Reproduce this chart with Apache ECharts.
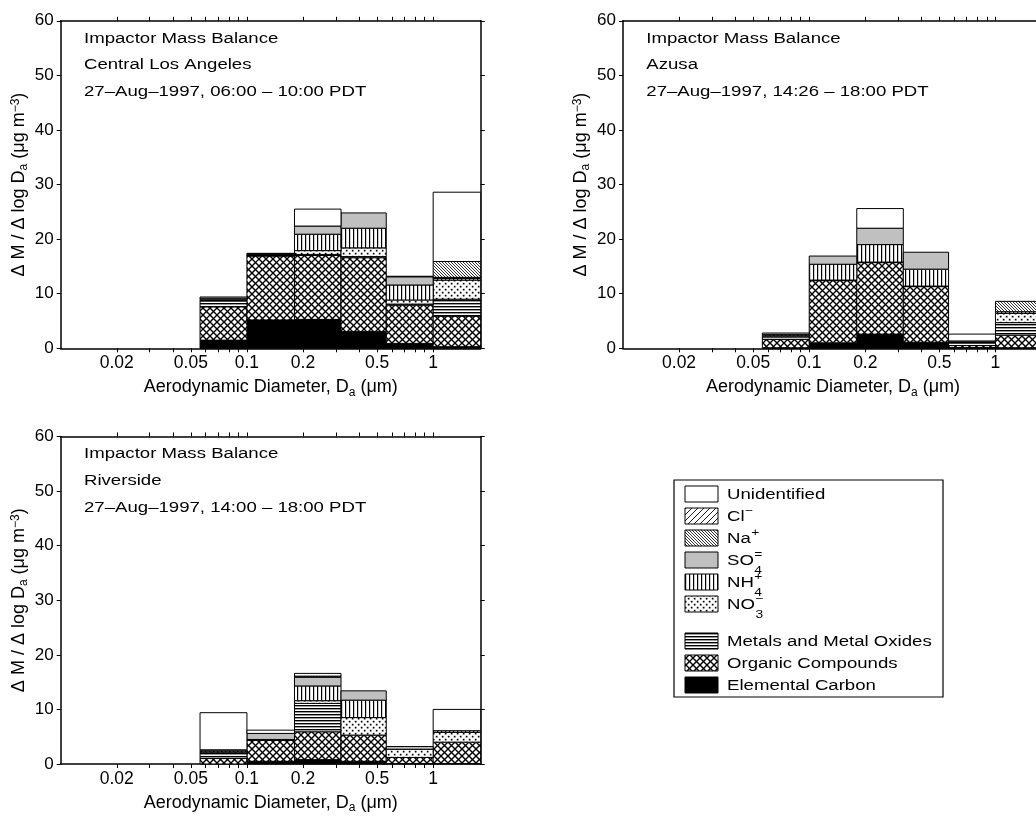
<!DOCTYPE html>
<html>
<head>
<meta charset="utf-8">
<script src="https://cdn.jsdelivr.net/npm/echarts@6/dist/echarts.min.js"></script>
<style>
html, body { margin: 0; padding: 0; background: #fff; }
#chart { width: 1036px; height: 817px; }
</style>
</head>
<body>
<div id="chart"></div>
<script>
// MOUDI stage boundaries, aerodynamic diameter in µm
const binEdges = [0.056, 0.1, 0.18, 0.32, 0.56, 1.0, 1.8];

// x axis: labelled diameters and all tick positions (log scale, µm)
const xLabelValues = [0.02, 0.05, 0.1, 0.2, 0.5, 1];
const xLabelTexts = ['0.02', '0.05', '0.1', '0.2', '0.5', '1'];
const xTickValues = [0.02, 0.03, 0.04, 0.05, 0.06, 0.07, 0.08, 0.09,
  0.1, 0.2, 0.3, 0.4, 0.5, 0.6, 0.7, 0.8, 0.9, 1];
const xRange = [0.01, 1.8];
const yRange = [0, 60];
const yStep = 10;

// Central Los Angeles, 27-Aug-1997 06:00-10:00 PDT (µg m-3 per log Da)
const laElementalCarbon = [1.5, 5.2, 5.3, 3.05, 0.9, 0.3];
const laOrganics        = [6.1, 11.7, 11.7, 13.55, 7.0, 5.6];
const laMetals          = [1.1, 0.2, 0.2, 0.2, 0.2, 3.1];
const laNitrate         = [0.1, 0.1, 0.7, 1.6, 0.75, 3.5];
const laAmmonium        = [0.1, 0.1, 3.0, 3.6, 2.75, 0.3];
const laSulfate         = [0.3, 0.1, 1.5, 2.8, 1.5, 0.2];
const laSodium          = [0, 0, 0, 0, 0, 2.9];
const laChloride        = [0, 0, 0, 0, 0, 0];
const laUnidentified    = [0.2, 0, 3.1, 0, 0.1, 12.7];

// Azusa, 27-Aug-1997 14:26-18:00 PDT
const azElementalCarbon = [0.1, 1.0, 2.6, 1.1, 0.15, 0.1];
const azOrganics        = [1.55, 11.4, 13.1, 10.2, 0.35, 2.3];
const azMetals          = [0.45, 0.1, 0.1, 0.1, 0.5, 2.3];
const azNitrate         = [0.2, 0, 0, 0, 0.1, 1.7];
const azAmmonium        = [0.2, 2.9, 3.2, 3.1, 0.05, 0.3];
const azSulfate         = [0.3, 1.5, 3.0, 3.1, 0.2, 0];
const azSodium          = [0, 0, 0, 0, 0, 1.9];
const azChloride        = [0, 0, 0, 0, 0, 0];
const azUnidentified    = [0, 0, 3.6, 0, 1.25, 0];

// Riverside, 27-Aug-1997 14:00-18:00 PDT
const rvElementalCarbon = [0, 0.5, 0.8, 0.5, 0.1, 0.1];
const rvOrganics        = [1.0, 3.8, 5.1, 4.8, 1.1, 3.9];
const rvMetals          = [1.0, 0.2, 5.2, 0, 0, 0];
const rvNitrate         = [0.2, 0, 0.5, 3.2, 1.5, 1.8];
const rvAmmonium        = [0.2, 0, 2.7, 3.2, 0, 0.3];
const rvSulfate         = [0.2, 1.1, 1.6, 1.7, 0.5, 0];
const rvSodium          = [0, 0, 0.2, 0, 0, 0];
const rvChloride        = [0, 0, 0, 0, 0, 0];
const rvUnidentified    = [6.8, 0.6, 0.5, 0, 0, 3.9];

// species keys, stacked from the bottom up
const stackOrder = ['ec', 'org', 'met', 'no3', 'nh4', 'so4', 'na', 'cl', 'unid'];
// legend rows, top to bottom: [main text, superscript, subscript]
const legendOrder = ['unid', 'cl', 'na', 'so4', 'nh4', 'no3', 'met', 'org', 'ec'];
const legendLabels = {
  unid: ['Unidentified', '', ''],
  cl: ['Cl', '\u2212', ''],
  na: ['Na', '+', ''],
  so4: ['SO', '=', '4'],
  nh4: ['NH', '+', '4'],
  no3: ['NO', '\u2212', '3'],
  met: ['Metals and Metal Oxides', '', ''],
  org: ['Organic Compounds', '', ''],
  ec: ['Elemental Carbon', '', '']
};

const sites = [
  { name: 'Central Los Angeles', period: '27\u2013Aug\u20131997, 06:00 \u2013 10:00 PDT',
    parts: { ec: laElementalCarbon, org: laOrganics, met: laMetals, no3: laNitrate, nh4: laAmmonium,
             so4: laSulfate, na: laSodium, cl: laChloride, unid: laUnidentified } },
  { name: 'Azusa', period: '27\u2013Aug\u20131997, 14:26 \u2013 18:00 PDT',
    parts: { ec: azElementalCarbon, org: azOrganics, met: azMetals, no3: azNitrate, nh4: azAmmonium,
             so4: azSulfate, na: azSodium, cl: azChloride, unid: azUnidentified } },
  { name: 'Riverside', period: '27\u2013Aug\u20131997, 14:00 \u2013 18:00 PDT',
    parts: { ec: rvElementalCarbon, org: rvOrganics, met: rvMetals, no3: rvNitrate, nh4: rvAmmonium,
             so4: rvSulfate, na: rvSodium, cl: rvChloride, unid: rvUnidentified } }
];

// ---- layout ----
const FONT = '"Liberation Sans", Arial, Helvetica, sans-serif';
const panelBoxes = [
  { left: 60.7, top: 20.8 },
  { left: 623, top: 20.8 },
  { left: 60.7, top: 436.5 }
];
const PW = 420, PH = 327.5;
const TEXT_STRETCH = 1.2;

// ---- hatch fills ----
function tile(w, h, draw) {
  const c = document.createElement('canvas');
  c.width = w; c.height = h;
  const g = c.getContext('2d');
  g.fillStyle = '#fff';
  g.fillRect(0, 0, w, h);
  draw(g, w, h);
  return { image: c, repeat: 'repeat' };
}
function slash(g, w, h) {       // "/" lines, tileable
  g.beginPath();
  g.moveTo(0, h); g.lineTo(w, 0);
  g.moveTo(-1, 1); g.lineTo(1, -1);
  g.moveTo(w - 1, h + 1); g.lineTo(w + 1, h - 1);
  g.stroke();
}
function backslash(g, w, h) {   // "\" lines, tileable
  g.beginPath();
  g.moveTo(0, 0); g.lineTo(w, h);
  g.moveTo(-1, h - 1); g.lineTo(1, h + 1);
  g.moveTo(w - 1, -1); g.lineTo(w + 1, 1);
  g.stroke();
}
const fills = {
  unid: '#ffffff',
  cl: tile(6, 6, (g, w, h) => { g.strokeStyle = '#000'; g.lineWidth = 0.9; slash(g, w, h); }),
  na: tile(3, 3, (g, w, h) => { g.strokeStyle = '#000'; g.lineWidth = 0.8; backslash(g, w, h); }),
  so4: '#c0c0c0',
  nh4: tile(4, 2, (g) => { g.fillStyle = '#000'; g.fillRect(1, 0, 1.2, 2); }),
  no3: tile(6, 6, (g) => { g.fillStyle = '#000'; g.fillRect(0.8, 0.8, 1.7, 1.7); g.fillRect(3.8, 3.8, 1.7, 1.7); }),
  met: tile(2, 3, (g) => { g.fillStyle = '#000'; g.fillRect(0, 0, 2, 1); g.fillStyle = '#9a9a9a'; g.fillRect(0, 1, 2, 1); }),
  org: tile(7, 7, (g, w, h) => { g.strokeStyle = '#000'; g.lineWidth = 1.4; slash(g, w, h); backslash(g, w, h); }),
  ec: '#000000'
};

// ---- axes ----
const lg = Math.log10;
const xTickLog = xTickValues.map(lg);
const xLabelLog = xLabelValues.map(lg);
function xLabelFor(v) {
  for (let i = 0; i < xLabelLog.length; i++) {
    if (Math.abs(xLabelLog[i] - v) < 1e-6) return xLabelTexts[i];
  }
  return '';
}

const grid = [], xAxis = [], yAxis = [], series = [], graphic = [];
const axisLine = { show: true, onZero: false, lineStyle: { color: '#000', width: 1.5 } };
const nameRich = {
  m: { fontSize: 18, fontFamily: FONT, color: '#000', verticalAlign: 'top', lineHeight: 20 },
  sub: { fontSize: 12, fontFamily: FONT, color: '#000', verticalAlign: 'bottom', lineHeight: 12, padding: [13, 0, 0, 0] },
  sup: { fontSize: 12, fontFamily: FONT, color: '#000', verticalAlign: 'top', lineHeight: 12 }
};

panelBoxes.forEach((b, p) => {
  grid.push({ left: b.left, top: b.top, width: PW, height: PH, containLabel: false, outerBoundsMode: 'none' });
  // bottom axis with labels
  xAxis.push({
    type: 'value', gridIndex: p, position: 'bottom', min: lg(xRange[0]), max: lg(xRange[1]),
    axisLine,
    axisTick: { show: true, inside: false, length: 4, customValues: xTickLog, lineStyle: { color: '#000', width: 1 } },
    axisLabel: { show: true, customValues: xLabelLog, formatter: xLabelFor, color: '#000', fontSize: 17.5, fontFamily: FONT, margin: 6 },
    splitLine: { show: false },
    name: '{m|Aerodynamic Diameter, D}{sub|a}{m| (\u03bcm)}',
    nameLocation: 'middle', nameGap: 27,
    nameTextStyle: { color: '#000', fontFamily: FONT, fontSize: 18, rich: nameRich }
  });
  // mirrored top axis, ticks only
  xAxis.push({
    type: 'value', gridIndex: p, position: 'top', min: lg(xRange[0]), max: lg(xRange[1]),
    axisLine,
    axisTick: { show: true, inside: false, length: 4, customValues: xTickLog, lineStyle: { color: '#000', width: 1 } },
    axisLabel: { show: false }, splitLine: { show: false }
  });
  yAxis.push({
    type: 'value', gridIndex: p, position: 'left', min: yRange[0], max: yRange[1], interval: yStep,
    axisLine,
    axisTick: { show: true, inside: false, length: 4, lineStyle: { color: '#000', width: 1 } },
    axisLabel: { color: '#000', fontSize: 17, fontFamily: FONT, margin: 7 },
    splitLine: { show: false },
    name: '{m|\u0394 M / \u0394 log D}{sub|a}{m| (\u03bcg m}{sup|\u22123}{m|)}',
    nameLocation: 'middle', nameGap: 31, nameRotate: 90,
    nameTextStyle: { color: '#000', fontFamily: FONT, fontSize: 18, rich: nameRich }
  });
  yAxis.push({
    type: 'value', gridIndex: p, position: 'right', min: yRange[0], max: yRange[1], interval: yStep,
    axisLine,
    axisTick: { show: true, inside: false, length: 4, lineStyle: { color: '#000', width: 1 } },
    axisLabel: { show: false }, splitLine: { show: false }
  });

  // stacked size-resolved segments
  const site = sites[p];
  const base = binEdges.slice(0, -1).map(() => 0);
  stackOrder.forEach((key) => {
    const vals = site.parts[key];
    const data = vals.map((v, i) => {
      const item = [lg(binEdges[i]), lg(binEdges[i + 1]), base[i], base[i] + v];
      base[i] += v;
      return item;
    });
    const fill = fills[key];
    series.push({
      type: 'custom', name: key, xAxisIndex: p * 2, yAxisIndex: p * 2,
      encode: { x: [0, 1], y: [2, 3] },
      data,
      renderItem: (params, api) => {
        const y0 = api.value(2), y1 = api.value(3);
        if (!(y1 - y0 > 1e-9)) return null;
        const a = api.coord([api.value(0), y1]);
        const c = api.coord([api.value(1), y0]);
        return {
          type: 'rect',
          shape: { x: a[0], y: a[1], width: c[0] - a[0], height: c[1] - a[1] },
          style: { fill, stroke: '#000', lineWidth: 1 }
        };
      }
    });
  });

  // annotation block in the upper left of each panel
  ['Impactor Mass Balance', site.name, site.period].forEach((t, k) => {
    graphic.push({
      type: 'text', x: b.left + 23.3, y: b.top + 17.5 + k * 26.7, scaleX: TEXT_STRETCH, z: 100,
      style: { text: t, fill: '#000', font: '15.5px ' + FONT, textAlign: 'left', textVerticalAlign: 'middle' }
    });
  });
});

// ---- legend ----
const legendBox = { x: 674, y: 480, w: 269, h: 217 };
const legendRowY = [494, 516, 538, 560, 582, 604, 641, 663, 685];
graphic.push({
  type: 'rect', z: 90,
  shape: { x: legendBox.x, y: legendBox.y, width: legendBox.w, height: legendBox.h },
  style: { fill: '#fff', stroke: '#000', lineWidth: 1.2 }
});
const measureCtx = document.createElement('canvas').getContext('2d');
measureCtx.font = '15.5px ' + FONT;
legendOrder.forEach((key, i) => {
  const cy = legendRowY[i];
  graphic.push({
    type: 'rect', z: 95,
    shape: { x: 685, y: cy - 8, width: 33, height: 16 },
    style: { fill: fills[key], stroke: '#000', lineWidth: 1 }
  });
  const [main, sup, sub] = legendLabels[key];
  graphic.push({
    type: 'text', x: 727, y: cy + 1, scaleX: TEXT_STRETCH, z: 95,
    style: { text: main, fill: '#000', font: '15.5px ' + FONT, textAlign: 'left', textVerticalAlign: 'middle' }
  });
  const after = 727 + measureCtx.measureText(main).width * TEXT_STRETCH + 0.5;
  if (sup) {
    graphic.push({
      type: 'text', x: after, y: cy - 5, scaleX: TEXT_STRETCH, z: 95,
      style: { text: sup, fill: '#000', font: '11.5px ' + FONT, textAlign: 'left', textVerticalAlign: 'middle' }
    });
  }
  if (sub) {
    graphic.push({
      type: 'text', x: after, y: cy + 11, scaleX: TEXT_STRETCH, z: 95,
      style: { text: sub, fill: '#000', font: '11.5px ' + FONT, textAlign: 'left', textVerticalAlign: 'middle' }
    });
  }
});

const chart = echarts.init(document.getElementById('chart'), null, { renderer: 'canvas' });
chart.setOption({
  animation: false,
  backgroundColor: '#fff',
  textStyle: { fontFamily: FONT },
  grid, xAxis, yAxis, series, graphic
});
</script>
</body>
</html>
